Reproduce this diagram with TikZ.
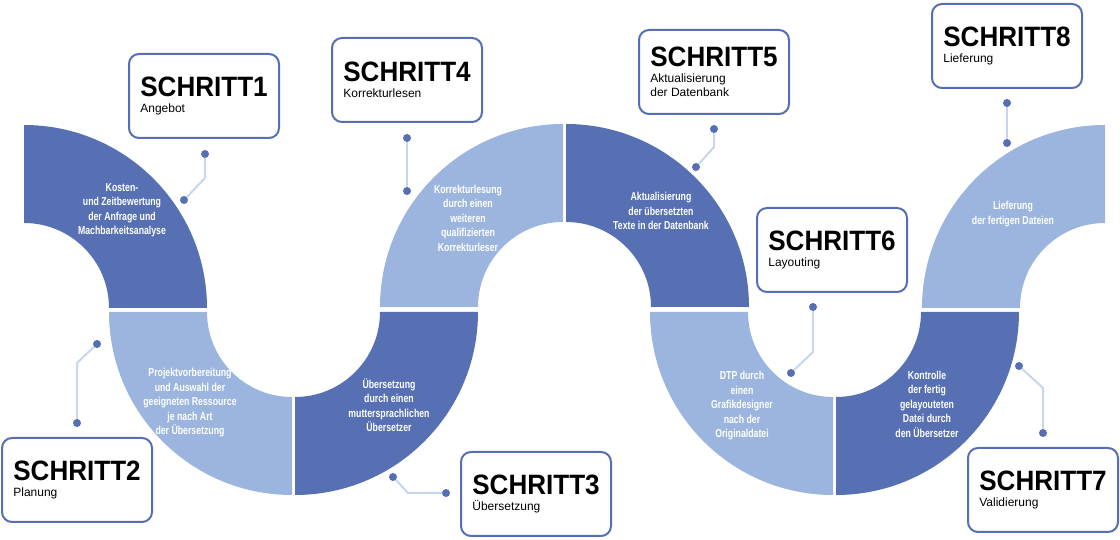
\documentclass[tikz,border=0pt]{standalone}
\usepackage{fontspec}
\setmainfont{Liberation Sans}
\newfontfamily\headfont[FakeStretch=0.93]{Liberation Sans}
\newfontfamily\condfont[FakeStretch=0.76]{Liberation Sans}
\newcommand{\schrittfont}{\headfont\bfseries\fontsize{28}{28}\selectfont}
\definecolor{segdark}{RGB}{86,112,179}
\definecolor{seglight}{RGB}{156,181,222}
\definecolor{boxblue}{RGB}{86,110,180}
\definecolor{leadblue}{RGB}{198,213,240}

\begin{document}
\begin{tikzpicture}[x=1pt,y=1pt,
    box/.style={draw=boxblue,line width=2pt,rounded corners=10pt,fill=white,minimum width=150pt,minimum height=84pt,align=left,font=\fontsize{12}{14}\selectfont},
    seglabel/.style={text=white,align=center,font=\condfont\bfseries\fontsize{11.5}{14.5}\selectfont},
    dotmark/.style={circle,fill=boxblue,inner sep=0pt,minimum size=8pt},
    lead/.style={draw=leadblue,line width=2pt}]
        \useasboundingbox (0,0) rectangle (1120,540);
        \foreach \cx/\cy/\a/\col in {24/232/0/segdark,292/228/180/seglight,295/228/270/segdark,563/233/90/seglight,566/233/0/segdark,833/228/180/seglight,836/228/270/segdark,1105/232/90/seglight}
            \fill[\col] (\cx,\cy) ++(\a:85) -- ++(\a:98) arc[start angle=\a,end angle=\a+90,radius=183] -- ++(\a+270:98) arc[start angle=\a+90,end angle=\a,radius=85] -- cycle;
        \node[seglabel] (t1) at (122,330) {Kosten-\\und Zeitbewertung\\der Anfrage und\\Machbarkeitsanalyse};
        \node[seglabel] (t2) at (190,137) {Projektvorbereitung\\und Auswahl der\\geeigneten Ressource\\je nach Art\\der Übersetzung};
        \node[seglabel] (t3) at (389,135) {Übersetzung\\durch einen\\muttersprachlichen\\Übersetzer};
        \node[seglabel] (t4) at (468,322) {Korrekturlesung\\durch einen\\weiteren\\qualifizierten\\Korrekturleser};
        \node[seglabel] (t5) at (661,329) {Aktualisierung\\der übersetzten\\Texte in der Datenbank};
        \node[seglabel] (t6) at (742,134) {DTP durch\\einen\\Grafikdesigner\\nach der\\Originaldatei};
        \node[seglabel] (t7) at (927,136) {Kontrolle\\der fertig\\gelayouteten\\Datei durch\\den Übersetzer};
        \node[seglabel] (t8) at (1013,326) {Lieferung\\der fertigen Dateien};
        \node[box] (s1) at (204,444) {{\schrittfont SCHRITT1}\\[2pt]Angebot};
        \node[box] (s2) at (77,60) {{\schrittfont SCHRITT2}\\[2pt]Planung};
        \node[box] (s3) at (536,46) {{\schrittfont SCHRITT3}\\[2pt]Übersetzung};
        \node[box] (s4) at (407,460) {{\schrittfont SCHRITT4}\\[2pt]Korrekturlesen};
        \node[box] (s5) at (714,468) {{\schrittfont SCHRITT5}\\[2pt]Aktualisierung\\der Datenbank};
        \node[box] (s6) at (832,290) {{\schrittfont SCHRITT6}\\[2pt]Layouting};
        \node[box] (s7) at (1043,50) {{\schrittfont SCHRITT7}\\[2pt]Validierung};
        \node[box] (s8) at (1007,494) {{\schrittfont SCHRITT8}\\[2pt]Lieferung};
        \node[dotmark] (d1a) at (205,386) {};
        \node[dotmark] (d1b) at (184,340) {};
        \coordinate (k1) at (205,362);
        \node[dotmark] (d2a) at (97,196) {};
        \node[dotmark] (d2b) at (77,117) {};
        \coordinate (k2) at (77,177);
        \node[dotmark] (d3a) at (393,63) {};
        \node[dotmark] (d3b) at (446,47) {};
        \coordinate (k3) at (408,47);
        \node[dotmark] (d4a) at (407,402) {};
        \node[dotmark] (d4b) at (407,349) {};
        \node[dotmark] (d5a) at (714,411) {};
        \node[dotmark] (d5b) at (696,373) {};
        \coordinate (k5) at (714,393);
        \node[dotmark] (d6a) at (813,233) {};
        \node[dotmark] (d6b) at (791,167) {};
        \coordinate (k6) at (813,188);
        \node[dotmark] (d7a) at (1019,174) {};
        \node[dotmark] (d7b) at (1043,107) {};
        \coordinate (k7) at (1043,152);
        \node[dotmark] (d8a) at (1007,437) {};
        \node[dotmark] (d8b) at (1007,397) {};
        \draw[lead] (d1a) -- (k1) -- (d1b);
        \draw[lead] (d2a) -- (k2) -- (d2b);
        \draw[lead] (d3a) -- (k3) -- (d3b);
        \draw[lead] (d4a) -- (d4b);
        \draw[lead] (d5a) -- (k5) -- (d5b);
        \draw[lead] (d6a) -- (k6) -- (d6b);
        \draw[lead] (d7a) -- (k7) -- (d7b);
        \draw[lead] (d8a) -- (d8b);
    \end{tikzpicture}
\end{document}
